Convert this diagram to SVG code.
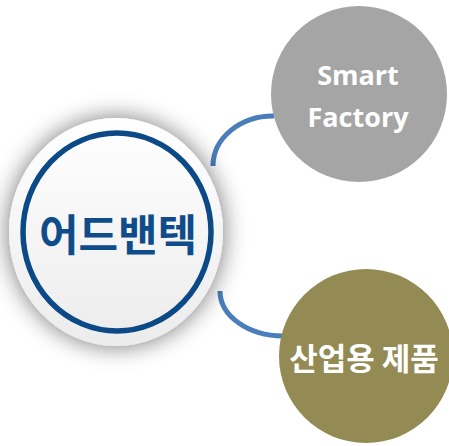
<svg xmlns="http://www.w3.org/2000/svg" width="449" height="446" viewBox="0 0 449 446">
<defs>
<filter id="sh" x="-40%" y="-40%" width="180%" height="180%">
<feGaussianBlur in="SourceAlpha" stdDeviation="12"/>
<feComponentTransfer><feFuncA type="linear" slope="0.55"/></feComponentTransfer>
<feMerge><feMergeNode/><feMergeNode in="SourceGraphic"/></feMerge>
</filter>
<linearGradient id="g" x1="0" y1="0" x2="0" y2="1">
<stop offset="0" stop-color="#ffffff"/>
<stop offset="1" stop-color="#ececec"/>
</linearGradient>
</defs>
<style>
.conn{fill:none;stroke:#4a7ebb;stroke-width:5}
.lbl{font-family:"Open Sans","Noto Sans CJK KR",sans-serif;font-weight:bold;fill:#ffffff;text-anchor:middle}
.main{font-family:"Noto Sans CJK KR",sans-serif;font-weight:bold;fill:#0f4c8a;text-anchor:middle}
</style>
<g id="connectors">
<path class="conn" d="M213,166 A60,50 0 0 1 274,116"/>
<path class="conn" d="M220,291 A63,45 0 0 0 283,336"/>
</g>
<g id="main">
<ellipse cx="116" cy="232" rx="107" ry="114" fill="url(#g)" filter="url(#sh)"/>
<ellipse cx="117" cy="232" rx="94" ry="99" fill="none" stroke="#0c4a87" stroke-width="5.5"/>
<text class="main" x="118" y="251" font-size="43">어드밴텍</text>
</g>
<g id="smart">
<circle cx="359" cy="94" r="88" fill="#a5a5a5"/>
<text class="lbl" x="358" y="85" font-size="27">Smart</text>
<text class="lbl" x="358" y="127" font-size="27">Factory</text>
</g>
<g id="industrial">
<circle cx="366" cy="356" r="87" fill="#948a54"/>
<text class="lbl" x="364" y="370" font-size="31" style="font-family:'Noto Sans CJK KR',sans-serif">산업용 제품</text>
</g>
</svg>
